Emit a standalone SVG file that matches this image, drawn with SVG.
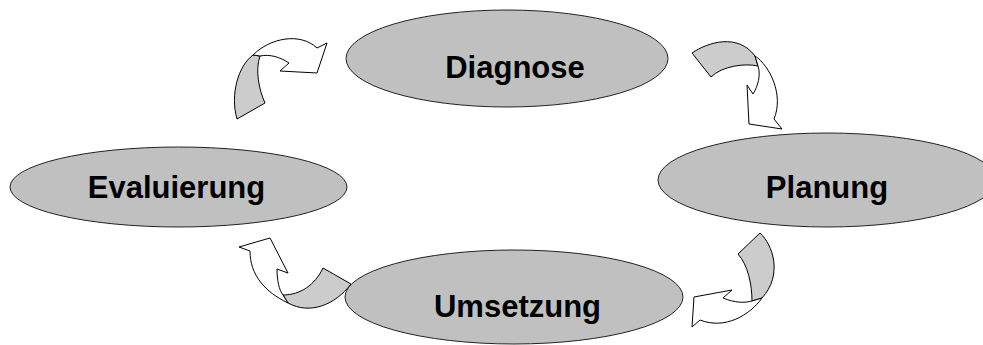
<svg xmlns="http://www.w3.org/2000/svg" width="983" height="345" viewBox="0 0 983 345">
  <style>
    .phase ellipse { fill: #c0c0c0; stroke: #222; stroke-width: 1; }
    .phase text { font-family: "Liberation Sans", Arial, sans-serif; font-weight: bold; font-size: 31px; fill: #000; text-anchor: middle; }
    .back { fill: #cccccc; stroke: #000; stroke-width: 1; stroke-linejoin: round; }
    .front { fill: #ffffff; stroke: #000; stroke-width: 1; stroke-linejoin: miter; }
  </style>
  <rect width="983" height="345" fill="#ffffff"/>

  <g id="connectors">
    <!-- Evaluierung -> Diagnose -->
    <g id="arrow-eval-diag">
      <path class="back" d="M253,55 C238,66 230,95 237,119 L265,103 C259,90 255,70 260,56 Z"/>
      <path class="front" d="M253,55 C270,38 300,32 317,48 L327,43 L317,73 L280,71 L289,63 C280,57 270,54 260,56 Z"/>
    </g>
    <!-- Diagnose -> Planung -->
    <g id="arrow-diag-plan">
      <path class="back" d="M692,53 C708,42 738,33 755,56 L758,66 C745,63 722,66 711,77 Z"/>
      <path class="front" d="M755,56 C770,66 784,95 774,119 L782,129 L749,124 L747,85 L753,94 C758,86 761,75 758,66 Z"/>
    </g>
    <!-- Planung -> Umsetzung -->
    <g id="arrow-plan-ums">
      <path class="back" d="M760,233 C773,245 783,275 762,298 L752,301 C752,285 748,265 738,254 Z"/>
      <path class="front" d="M762,298 C750,315 725,330 700,320 L692,327 L694,297 L732,290 L723,298 C735,303 745,303 752,301 Z"/>
    </g>
    <!-- Umsetzung -> Evaluierung -->
    <g id="arrow-ums-eval">
      <path class="back" d="M323,268 L351,284 C335,305 310,315 288,303 L283,295 C300,295 315,285 323,268 Z"/>
      <path class="front" d="M288,303 C265,292 250,275 250,251 L239,247 L270,238 L288,273 L277,269 C277,280 279,290 283,295 Z"/>
    </g>
  </g>

  <g id="diagnose" class="phase">
    <ellipse cx="507" cy="58.5" rx="161" ry="48.5"/>
    <text x="515" y="78">Diagnose</text>
  </g>
  <g id="planung" class="phase">
    <ellipse cx="827" cy="180" rx="169" ry="47"/>
    <text x="827" y="198">Planung</text>
  </g>
  <g id="umsetzung" class="phase">
    <ellipse cx="514" cy="297" rx="169" ry="47"/>
    <text x="517.5" y="317">Umsetzung</text>
  </g>
  <g id="evaluierung" class="phase">
    <ellipse cx="178.5" cy="187" rx="168.5" ry="40"/>
    <text x="176.5" y="198">Evaluierung</text>
  </g>
</svg>
